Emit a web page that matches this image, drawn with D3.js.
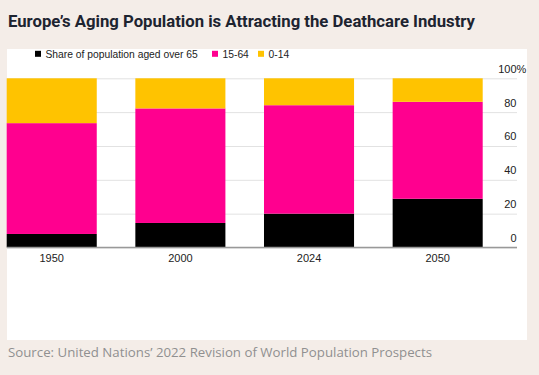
<!DOCTYPE html>
<html>
<head>
<meta charset="utf-8">
<script src="https://cdn.jsdelivr.net/npm/d3@7"></script>
<style>
  html, body { margin: 0; padding: 0; background: #f4ede8; }
  svg { display: block; }
</style>
</head>
<body>
<svg id="chart" width="539" height="375"></svg>
<script>
// ---- data ----
const years = ["1950", "2000", "2024", "2050"];
const over65 = [8, 14.5, 20, 28.8];
const age15to64 = [65.5, 67.7, 64.1, 57.3];
const age0to14 = [26.5, 17.8, 15.9, 13.9];
const seriesNames = ["Share of population aged over 65", "15-64", "0-14"];
const seriesColors = ["#000000", "#ff008f", "#ffc300"];
const yTicks = [0, 20, 40, 60, 80, 100];

const titleText = "Europe\u2019s Aging Population is Attracting the Deathcare Industry";
const sourceText = "Source: United Nations\u2019 2022 Revision of World Population Prospects";

const svg = d3.select("#chart");

// background + panel
svg.append("rect").attr("width", 539).attr("height", 375).attr("fill", "#f4ede8");
svg.append("rect").attr("x", 7).attr("y", 49).attr("width", 520).attr("height", 291).attr("fill", "#ffffff");

// title
svg.append("text")
  .attr("x", 8).attr("y", 27)
  .attr("font-family", "Roboto, 'Liberation Sans', sans-serif")
  .attr("font-weight", "bold")
  .attr("font-size", 16.5)
  .attr("fill", "#1d2430")
  .attr("textLength", 467)
  .attr("lengthAdjust", "spacingAndGlyphs")
  .text(titleText);

// scales
const x = d3.scaleBand().domain(years).range([6.7, 482.7]).paddingInner(0.3).paddingOuter(0);
const y = d3.scaleLinear().domain([0, 100]).range([247.5, 78.3]);

// gridlines + y labels
const yAxis = d3.axisRight(y).tickValues(yTicks).tickSize(510).tickFormat(d => d);
const gy = svg.append("g").attr("transform", "translate(7,0)").call(yAxis);
gy.select(".domain").remove();
gy.selectAll(".tick line").attr("stroke", "#e2e2e2").attr("stroke-width", 1);
gy.selectAll(".tick text")
  .attr("x", 509.5)
  .attr("y", -6)
  .attr("dy", null)
  .attr("text-anchor", "end")
  .attr("font-family", "'Liberation Sans', Arial, sans-serif")
  .attr("font-size", 11)
  .attr("fill", "#222");
gy.selectAll(".tick").filter(d => d === 100).append("text")
  .attr("x", 509.5)
  .attr("y", -6)
  .attr("text-anchor", "start")
  .attr("font-family", "'Liberation Sans', Arial, sans-serif")
  .attr("font-size", 11)
  .attr("fill", "#222")
  .text("%");

// stacked data
const rows = years.map((yr, i) => ({ year: yr, s0: over65[i], s1: age15to64[i], s2: age0to14[i] }));
const stack = d3.stack().keys(["s0", "s1", "s2"]);
const stacked = stack(rows);

svg.append("g").selectAll("g")
  .data(stacked)
  .join("g")
  .attr("fill", (d, i) => seriesColors[i])
  .selectAll("rect")
  .data(d => d)
  .join("rect")
  .attr("x", d => x(d.data.year))
  .attr("width", x.bandwidth())
  .attr("y", d => y(d[1]))
  .attr("height", d => y(d[0]) - y(d[1]));

// baseline
svg.append("line")
  .attr("x1", 7).attr("x2", 517)
  .attr("y1", y(0)).attr("y2", y(0))
  .attr("stroke", "#999").attr("stroke-width", 1.5);

// x axis labels
const xAxis = d3.axisBottom(x).tickSize(0).tickPadding(0);
const gx = svg.append("g").attr("transform", `translate(0,${y(0)})`).call(xAxis);
gx.select(".domain").remove();
gx.selectAll(".tick text")
  .attr("y", 14.5).attr("dy", null)
  .attr("font-family", "'Liberation Sans', Arial, sans-serif")
  .attr("font-size", 11)
  .attr("fill", "#222");

// legend
const legendX = [35, 212, 258];
const legend = svg.append("g");
seriesNames.forEach((name, i) => {
  legend.append("rect")
    .attr("x", legendX[i]).attr("y", 50.8)
    .attr("width", 6).attr("height", 6)
    .attr("fill", seriesColors[i]);
  legend.append("text")
    .attr("x", legendX[i] + 10.5).attr("y", 57.5)
    .attr("font-family", "'Liberation Sans', Arial, sans-serif")
    .attr("font-size", 10.3)
    .attr("fill", "#222")
    .text(name);
});

// source
svg.append("text")
  .attr("x", 8).attr("y", 357.3)
  .attr("font-family", "'Open Sans', 'Noto Sans', sans-serif")
  .attr("font-size", 13.5)
  .attr("fill", "#909090")
  .attr("textLength", 424)
  .attr("lengthAdjust", "spacingAndGlyphs")
  .text(sourceText);
</script>
</body>
</html>
